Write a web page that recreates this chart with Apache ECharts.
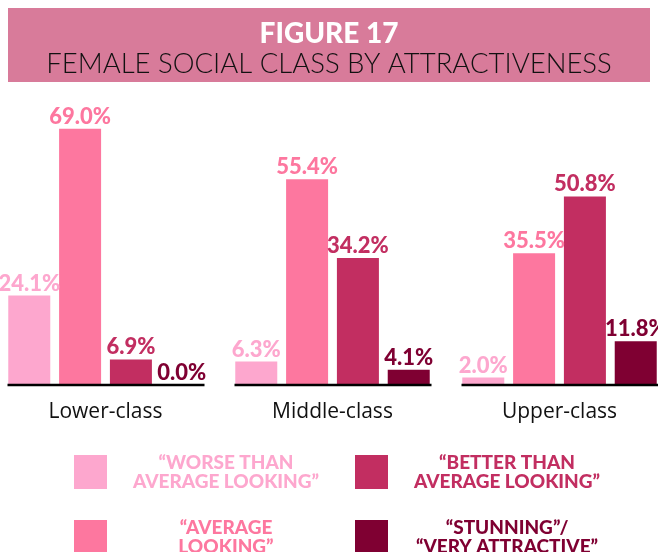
<!DOCTYPE html>
<html>
<head>
<meta charset="utf-8">
<title>Figure 17</title>
<script src="https://cdn.jsdelivr.net/npm/echarts@6/dist/echarts.min.js"></script>
<style>
  html, body { margin: 0; padding: 0; background: #fff; }
  #chart { width: 658px; height: 552px; }
</style>
</head>
<body>
<div id="chart"></div>
<script>
// data
let classes = ['Lower-class', 'Middle-class', 'Upper-class'];
let worseValues = [24.1, 6.3, 2.0];
let averageValues = [69.0, 55.4, 35.5];
let betterValues = [6.9, 34.2, 50.8];
let stunningValues = [0.0, 4.1, 11.8];
let seriesNames = [
  '“WORSE THAN AVERAGE LOOKING”',
  '“AVERAGE LOOKING”',
  '“BETTER THAN AVERAGE LOOKING”',
  '“STUNNING”/ “VERY ATTRACTIVE”'
];
let legendLines = [
  ['“WORSE THAN', 'AVERAGE LOOKING”'],
  ['“AVERAGE', 'LOOKING”'],
  ['“BETTER THAN', 'AVERAGE LOOKING”'],
  ['“STUNNING”/', '“VERY ATTRACTIVE”']
];
let colors = ['#fda7ce', '#fd779f', '#c22e61', '#7f0032'];

let chart = echarts.init(document.getElementById('chart'));

function barSeries(i, values) {
  return {
    name: seriesNames[i],
    type: 'bar',
    data: values,
    barWidth: 42,
    barGap: '21%',
    itemStyle: { color: colors[i] },
    label: {
      show: true,
      position: 'top',
      distance: 1,
      color: colors[i],
      fontFamily: 'Lato',
      fontWeight: 900,
      fontSize: 22,
      formatter: (p) => p.value.toFixed(1) + '%'
    }
  };
}

function legendFor(i, left, top) {
  let lines = legendLines[i];
  return {
    data: [seriesNames[i]],
    left: left,
    top: top,
    padding: 0,
    icon: 'rect',
    itemWidth: 33,
    itemHeight: 34,
    selectedMode: false,
    formatter: () => lines.map((l) => '{t|' + l + '}').join('\n'),
    textStyle: {
      rich: {
        t: {
          width: 228,
          align: 'center',
          color: colors[i],
          fontFamily: 'Lato',
          fontWeight: 900,
          fontSize: 19,
          lineHeight: 19
        }
      }
    }
  };
}

let options = {
  animation: false,
  graphic: [
    {
      type: 'rect',
      shape: { x: 8, y: 8, width: 642, height: 74 },
      style: { fill: '#d87b9a' },
      z: -1
    }
  ],
  title: [
    {
      text: 'FIGURE 17',
      left: 'center',
      top: 15,
      textStyle: { color: '#fff', fontFamily: 'Lato', fontWeight: 900, fontSize: 28 }
    },
    {
      text: 'FEMALE SOCIAL CLASS BY ATTRACTIVENESS',
      left: 'center',
      top: 45,
      textStyle: { color: '#111', fontFamily: 'Lato', fontWeight: 300, fontSize: 27.5 }
    }
  ],
  legend: [
    legendFor(0, 74, 453),
    legendFor(1, 74, 518),
    legendFor(2, 355, 453),
    legendFor(3, 355, 518)
  ],
  grid: { left: -8, width: 681, top: 88, height: 297, outerBoundsMode: 'none' },
  xAxis: {
    type: 'category',
    data: classes,
    axisLine: { show: false },
    axisTick: { show: false },
    axisLabel: { margin: 17, color: '#111', fontFamily: 'Open Sans', fontSize: 21 }
  },
  yAxis: {
    type: 'value',
    min: 0,
    max: 80,
    show: false
  },
  series: [
    barSeries(0, worseValues),
    barSeries(1, averageValues),
    barSeries(2, betterValues),
    barSeries(3, stunningValues),
    {
      // baseline under each group
      type: 'custom',
      data: classes.map((c, i) => [i, 0]),
      z: 5,
      silent: true,
      renderItem: function (params, api) {
        let p = api.coord([api.value(0), 0]);
        return {
          type: 'line',
          shape: { x1: p[0] - 98, y1: p[1], x2: p[0] + 99, y2: p[1] },
          style: { stroke: '#000', lineWidth: 2.5 }
        };
      }
    }
  ]
};
chart.setOption(options);
</script>
</body>
</html>
